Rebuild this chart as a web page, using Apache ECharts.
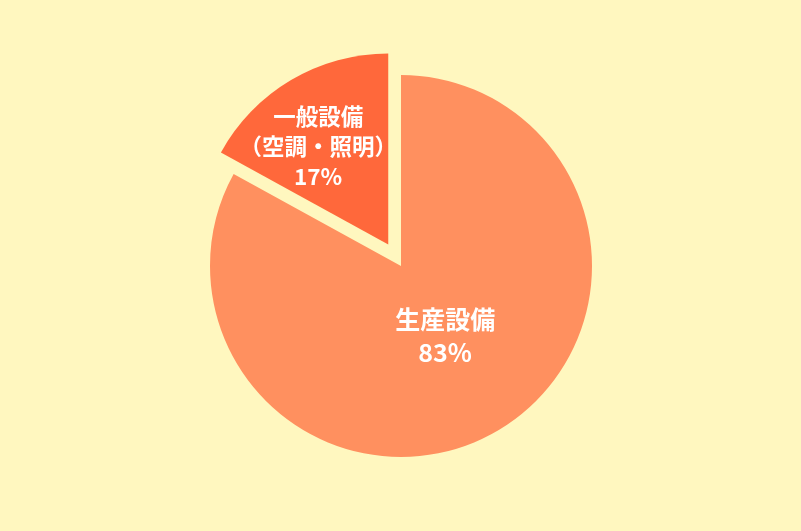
<!DOCTYPE html>
<html><head><meta charset="utf-8">
<script src="https://cdn.jsdelivr.net/npm/echarts@6/dist/echarts.min.js"></script>
<style>html,body{margin:0;padding:0;background:#fff7bf;}#c{width:801px;height:531px;}</style>
</head><body><div id="c"></div>
<script>
const categories = ['生産設備', '一般設備\n（空調・照明）'];
const values = [83, 17];
const colors = ['#ff905f', '#ff683b'];
const chart = echarts.init(document.getElementById('c'));
const data = categories.map((n, i) => ({
  name: n, value: values[i],
  selected: i === 1,
  itemStyle: { color: colors[i] },
  label: i === 0
    ? { fontSize: 25, lineHeight: 33, offset: [-6, -15] }
    : { fontSize: 22.5, lineHeight: 30, padding: [0, 40, 0, 0] }
}));
chart.setOption({
  backgroundColor: '#fff7bf',
  animation: false,
  series: [{
    type: 'pie',
    center: [401, 266],
    radius: 191,
    startAngle: 90,
    clockwise: true,
    selectedMode: 'single',
    selectedOffset: 25,
    itemStyle: { borderColor: '#fff7bf', borderWidth: 0 },
    label: {
      show: true, position: 'inside', color: '#ffffff',
      fontFamily: 'Noto Sans CJK JP', fontWeight: 'bold',
      formatter: p => p.name + '\n' + p.value + '%' + (p.dataIndex === 1 ? '\n{sp|}' : ''),
      rich: { sp: { lineHeight: 26, fontSize: 1 } }
    },
    labelLine: { show: false },
    emphasis: { disabled: true },
    data: data
  }]
});
</script></body></html>
